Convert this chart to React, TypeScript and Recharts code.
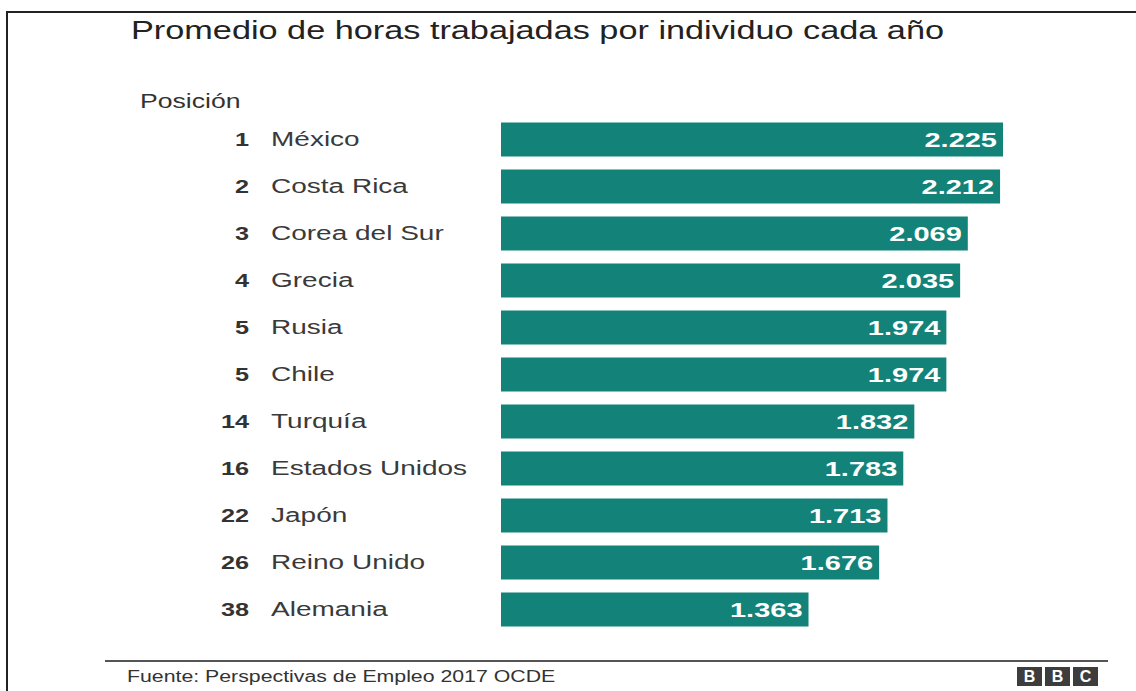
import React from 'react';
import { BarChart, Bar, XAxis, YAxis, LabelList } from 'recharts';

const ranks = [1, 2, 3, 4, 5, 5, 14, 16, 22, 26, 38];
const countries = [
  'México',
  'Costa Rica',
  'Corea del Sur',
  'Grecia',
  'Rusia',
  'Chile',
  'Turquía',
  'Estados Unidos',
  'Japón',
  'Reino Unido',
  'Alemania'
];
const hours = [2225, 2212, 2069, 2035, 1974, 1974, 1832, 1783, 1713, 1676, 1363];

const BAR_COLOR = '#13837a';
const FONT = "Arial, 'Liberation Sans', Helvetica, sans-serif";

const chartData = countries.map((country, i) => ({
  country,
  rank: ranks[i],
  hours: hours[i]
}));

const formatHours = (v: number) => v.toLocaleString('de-DE');

// the reference picture is stretched sideways, so every text gets a scaleX
const CountryTick = ({ x, y, payload, index }: any) => {
  const rank = ranks[index] ?? chartData.find(d => d.country === payload.value)?.rank;
  return (
    <g>
      <text
        transform={`translate(${x - 252},${y}) scale(1.33,1)`}
        textAnchor="end"
        dy="0.36em"
        fontSize={19}
        fontWeight="bold"
        fill="#333"
        fontFamily={FONT}
      >
        {rank}
      </text>
      <text
        transform={`translate(${x - 230},${y}) scale(1.4,1)`}
        textAnchor="start"
        dy="0.36em"
        fontSize={20}
        fill="#3a3a3a"
        fontFamily={FONT}
      >
        {payload.value}
      </text>
    </g>
  );
};

const ValueLabel = (props: any) => {
  const { x, y, width, height, value } = props;
  const tx = x + width - 6;
  const ty = y + height / 2;
  return (
    <text
      transform={`translate(${tx},${ty}) scale(1.45,1)`}
      textAnchor="end"
      dy="0.36em"
      fontSize={20}
      fontWeight="bold"
      fill="#fff"
      fontFamily={FONT}
    >
      {formatHours(value)}
    </text>
  );
};

const stretched = (left: number, top: number, size: number, sx: number): React.CSSProperties => ({
  position: 'absolute',
  left,
  top,
  fontSize: size,
  lineHeight: 1,
  whiteSpace: 'nowrap',
  transform: `scaleX(${sx})`,
  transformOrigin: 'left top'
});

const App: React.FC = () => {
  return (
    <div
      style={{
        position: 'absolute',
        left: 0,
        top: 0,
        width: 1136,
        height: 691,
        background: '#fff',
        overflow: 'hidden',
        fontFamily: FONT,
        color: '#333'
      }}
    >
      {/* frame: top and left edges only, top one runs off the right side */}
      <div style={{ position: 'absolute', left: 6, top: 11, width: 1250, height: 2, background: '#222' }} />
      <div style={{ position: 'absolute', left: 6, top: 11, width: 2, height: 700, background: '#222' }} />

      <div style={{ ...stretched(131, 18, 25, 1.37), color: '#222' }}>
        Promedio de horas trabajadas por individuo cada año
      </div>
      <div style={stretched(140, 91, 20, 1.33)}>Posición</div>

      <div style={{ position: 'absolute', left: 0, top: 0 }}>
        <BarChart
          width={1136}
          height={691}
          data={chartData}
          layout="vertical"
          margin={{ top: 115.5, right: 133, bottom: 58.5, left: 201 }}
        >
          <XAxis type="number" domain={[0, 2225]} hide />
          <YAxis
            type="category"
            dataKey="country"
            width={300}
            axisLine={false}
            tickLine={false}
            tickSize={0}
            tickMargin={0}
            interval={0}
            tick={<CountryTick />}
          />
          <Bar dataKey="hours" fill={BAR_COLOR} barSize={34} isAnimationActive={false}>
            <LabelList dataKey="hours" content={<ValueLabel />} />
          </Bar>
        </BarChart>
      </div>

      {/* footer */}
      <div style={{ position: 'absolute', left: 105, top: 660, width: 1003, height: 1.5, background: '#555' }} />
      <div style={stretched(127, 669, 16, 1.33)}>Fuente: Perspectivas de Empleo 2017 OCDE</div>
      <div style={{ position: 'absolute', left: 1017, top: 667, display: 'flex', gap: 3 }}>
        {['B', 'B', 'C'].map((ch, i) => (
          <div
            key={i}
            style={{
              width: 25,
              height: 19,
              background: '#3d3d3d',
              color: '#fff',
              fontWeight: 'bold',
              fontSize: 16,
              lineHeight: '19px',
              textAlign: 'center'
            }}
          >
            {ch}
          </div>
        ))}
      </div>
    </div>
  );
};

export default App;
